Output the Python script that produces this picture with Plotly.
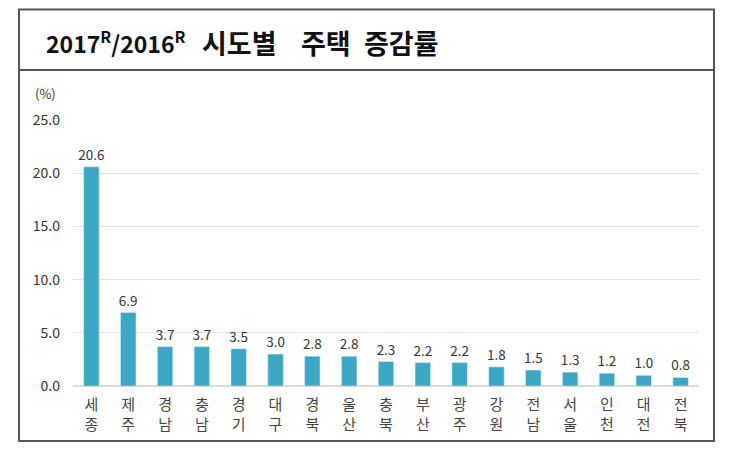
import plotly.graph_objects as go

regions = ["세종", "제주", "경남", "충남", "경기", "대구", "경북", "울산", "충북",
           "부산", "광주", "강원", "전남", "서울", "인천", "대전", "전북"]
values = [20.6, 6.9, 3.7, 3.7, 3.5, 3.0, 2.8, 2.8, 2.3, 2.2, 2.2, 1.8, 1.5, 1.3, 1.2, 1.0, 0.8]
y_ticks = [0, 5, 10, 15, 20, 25]
title_years = "2017<sup>R</sup>/2016<sup>R</sup>"
title_words = ["시도별", "주택", "증감률"]
title_word_cx = [239, 326, 401]

W, H = 730, 457
L, R, T, B = 73, 31, 120, 71
pw, ph = W - L - R, H - T - B

def px(x):
    return (x - L) / pw

def py(y):
    return (H - B - y) / ph

labels = ["<br>".join(list(r)) for r in regions]

fig = go.Figure(go.Bar(
    x=labels, y=values,
    marker_color="#3AA7C5",
    text=[f"{v:.1f}" for v in values],
    textposition="outside",
    constraintext="none",
    textfont=dict(size=13.5, color="#333333", family="Noto Sans CJK KR"),
    cliponaxis=False,
    width=0.42,
))

annotations = [
    dict(text=title_years, xref="paper", yref="paper", x=px(44), y=py(42),
         xanchor="left", yanchor="middle", showarrow=False,
         font=dict(size=23, color="#111111", family="Noto Sans CJK KR", weight="bold")),
    dict(text="(%)", xref="paper", yref="paper", x=px(33), y=py(93),
         xanchor="left", yanchor="middle", showarrow=False,
         font=dict(size=13, color="#333333", family="Noto Sans CJK KR")),
]
for w, x in zip(title_words, title_word_cx):
    annotations.append(dict(text=w, xref="paper", yref="paper", x=px(x), y=py(42),
                            xanchor="center", yanchor="middle", showarrow=False,
                            font=dict(size=27, color="#111111", family="Noto Sans CJK KR",
                                      weight="bold")))

fig.update_layout(
    width=W, height=H,
    margin=dict(l=L, r=R, t=T, b=B),
    paper_bgcolor="white", plot_bgcolor="white",
    showlegend=False,
    font=dict(family="Noto Sans CJK KR", color="#333333"),
    xaxis=dict(showgrid=False, showline=False, ticks="", ticklabelstandoff=8,
               tickfont=dict(size=15, color="#444444"), tickangle=0),
    yaxis=dict(range=[0, 25], tickvals=y_ticks,
               ticktext=[f"{v:.1f}" for v in y_ticks],
               showgrid=True, gridcolor="#E3E3E3", gridwidth=1,
               zeroline=True, zerolinecolor="#D9D9D9",
               showline=False, ticks="", ticklabelstandoff=12,
               tickfont=dict(size=14, color="#333333")),
    shapes=[
        dict(type="rect", xref="paper", yref="paper",
             x0=px(19), x1=px(714), y0=py(441), y1=py(9.5),
             line=dict(color="#555555", width=2), fillcolor="rgba(0,0,0,0)", layer="below"),
        dict(type="line", xref="paper", yref="paper",
             x0=px(19), x1=px(714), y0=py(70), y1=py(70),
             line=dict(color="#555555", width=2)),
    ],
    annotations=annotations,
)

fig.write_html("out.html")
